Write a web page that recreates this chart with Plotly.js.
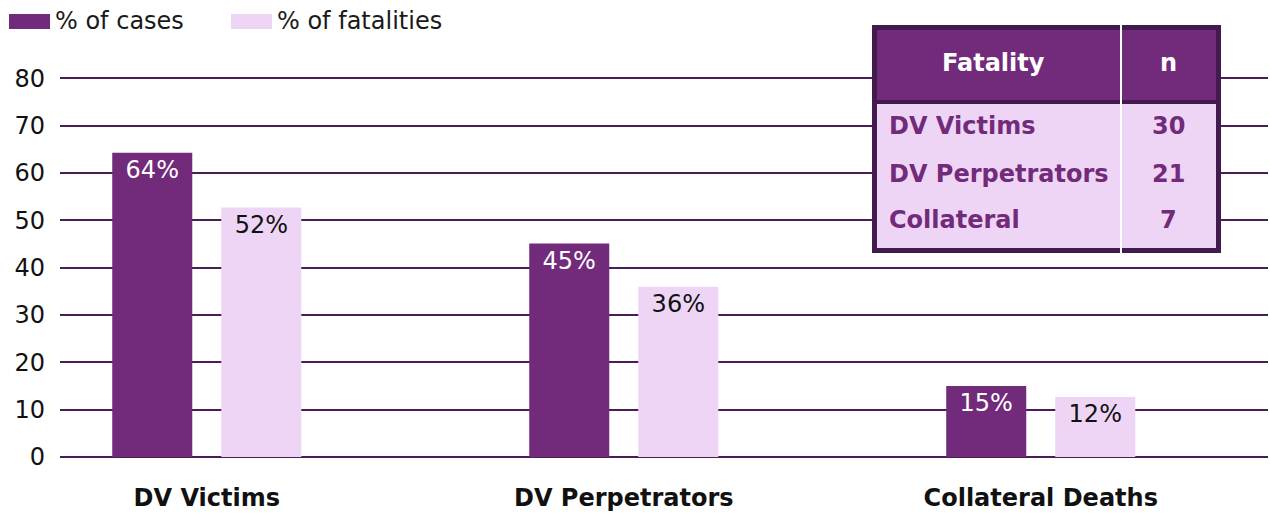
<!DOCTYPE html>
<html>
<head>
<meta charset="utf-8">
<script src="https://cdn.plot.ly/plotly-3.0.1.min.js"></script>
<style>html,body{margin:0;padding:0;background:#fff;}#chart{width:1270px;height:513px;}</style>
</head>
<body>
<div id="chart"></div>
<script>
const categories = ['DV Victims', 'DV Perpetrators', 'Collateral Deaths'];
const seriesNames = ['% of cases', '% of fatalities'];
const pctCases = [64.3, 45.1, 15.0];
const pctFatalities = [52.7, 36.0, 12.7];
const labelsCases = ['64%', '45%', '15%'];
const labelsFatalities = ['52%', '36%', '12%'];
const yTickVals = [0, 10, 20, 30, 40, 50, 60, 70, 80];
const tableHeader = ['Fatality', 'n'];
const tableRows = ['DV Victims', 'DV Perpetrators', 'Collateral'];
const tableN = [30, 21, 7];

const FONT = '"DejaVu Sans", sans-serif';
const FS = 24;
const DARK = '#722b7b';
const LIGHT = '#efd5f5';
const BORDER = '#421a4d';
const GRID = '#4b1d57';

// plot area in pixels
const L = 60, T = 77, W = 1208, H = 380;
const px = x => (x - L) / W;
const py = y => (T + H - y) / H;

const traces = [
  {
    type: 'bar', name: seriesNames[0], x: categories, y: pctCases,
    marker: {color: DARK},
    text: labelsCases, textposition: 'inside', insidetextanchor: 'end',
    textangle: 0, constraintext: 'none',
    textfont: {family: FONT, size: FS, color: '#ffffff'},
    hoverinfo: 'skip'
  },
  {
    type: 'bar', name: seriesNames[1], x: categories, y: pctFatalities,
    marker: {color: LIGHT},
    text: labelsFatalities, textposition: 'inside', insidetextanchor: 'end',
    textangle: 0, constraintext: 'none',
    textfont: {family: FONT, size: FS, color: '#111111'},
    hoverinfo: 'skip'
  }
];

const shapes = [
  // legend swatches
  {type: 'rect', xref: 'paper', yref: 'paper', x0: px(9), x1: px(50), y0: py(14), y1: py(29), fillcolor: DARK, line: {width: 0}},
  {type: 'rect', xref: 'paper', yref: 'paper', x0: px(231), x1: px(272), y0: py(14), y1: py(29), fillcolor: LIGHT, line: {width: 0}},
  // table
  {type: 'rect', xref: 'paper', yref: 'paper', x0: px(872), x1: px(1221), y0: py(25), y1: py(253), fillcolor: BORDER, line: {width: 0}, layer: 'above'},
  {type: 'rect', xref: 'paper', yref: 'paper', x0: px(877), x1: px(1216), y0: py(30), y1: py(100), fillcolor: DARK, line: {width: 0}, layer: 'above'},
  {type: 'rect', xref: 'paper', yref: 'paper', x0: px(877), x1: px(1216), y0: py(104), y1: py(248), fillcolor: LIGHT, line: {width: 0}, layer: 'above'},
  {type: 'line', xref: 'paper', yref: 'paper', x0: px(1121), x1: px(1121), y0: py(25), y1: py(253), line: {color: '#ffffff', width: 2}, layer: 'above'}
];

const annotations = [
  {xref: 'paper', yref: 'paper', x: px(53), y: py(21), xanchor: 'left', yanchor: 'middle', showarrow: false,
   text: seriesNames[0], font: {family: FONT, size: FS, color: '#1a1a1a'}},
  {xref: 'paper', yref: 'paper', x: px(275), y: py(21), xanchor: 'left', yanchor: 'middle', showarrow: false,
   text: seriesNames[1], font: {family: FONT, size: FS, color: '#1a1a1a'}},
  {xref: 'paper', yref: 'paper', x: px(993), y: py(63), xanchor: 'center', yanchor: 'middle', showarrow: false,
   text: tableHeader[0], font: {family: FONT, size: FS, color: '#ffffff', weight: 'bold'}},
  {xref: 'paper', yref: 'paper', x: px(1168), y: py(63), xanchor: 'center', yanchor: 'middle', showarrow: false,
   text: tableHeader[1], font: {family: FONT, size: FS, color: '#ffffff', weight: 'bold'}}
];
const rowY = [126, 174, 220];
tableRows.forEach((r, i) => {
  annotations.push({xref: 'paper', yref: 'paper', x: px(887), y: py(rowY[i]), xanchor: 'left', yanchor: 'middle', showarrow: false,
    text: r, font: {family: FONT, size: FS, color: DARK, weight: 'bold'}});
  annotations.push({xref: 'paper', yref: 'paper', x: px(1168), y: py(rowY[i]), xanchor: 'center', yanchor: 'middle', showarrow: false,
    text: String(tableN[i]), font: {family: FONT, size: FS, color: DARK, weight: 'bold'}});
});

const layout = {
  width: 1270, height: 513,
  margin: {l: L, r: 1270 - L - W, t: T, b: 513 - T - H, pad: 0},
  paper_bgcolor: '#ffffff', plot_bgcolor: '#ffffff',
  showlegend: false,
  barmode: 'group', bargap: 0.477, bargroupgap: 0.266,
  font: {family: FONT, size: FS, color: '#111111'},
  xaxis: {
    type: 'category', range: [-0.352, 2.545],
    showgrid: false, showline: false, ticks: '', zeroline: false,
    tickfont: {family: FONT, size: FS, color: '#111111', weight: 'bold'},
    ticklabelstandoff: 24, fixedrange: true
  },
  yaxis: {
    range: [0, 80.3], tickvals: yTickVals,
    showgrid: true, gridcolor: GRID, gridwidth: 2,
    zeroline: true, zerolinecolor: GRID, zerolinewidth: 2,
    showline: false, ticks: '',
    tickfont: {family: FONT, size: FS, color: '#111111'},
    ticklabelstandoff: 14, fixedrange: true
  },
  shapes: shapes,
  annotations: annotations
};

Plotly.newPlot('chart', traces, layout, {displayModeBar: false, staticPlot: true});
</script>
</body>
</html>
